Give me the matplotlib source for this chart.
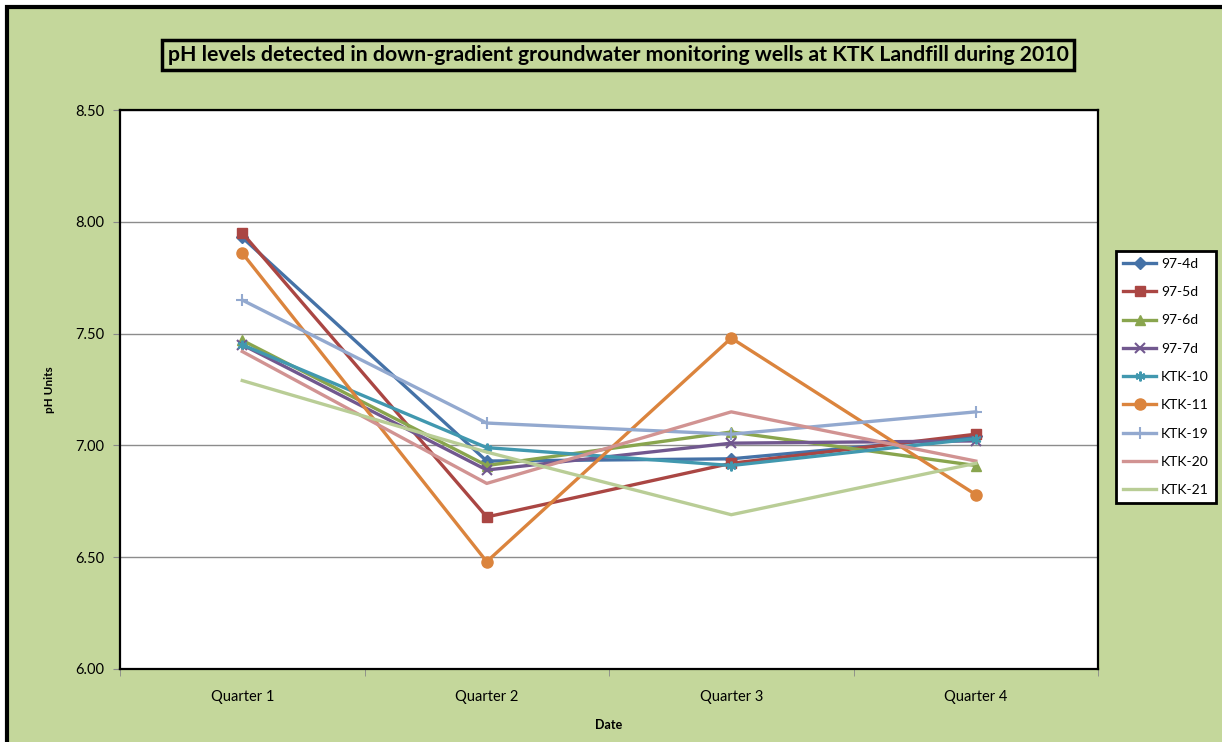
import matplotlib.pyplot as plt
import matplotlib.patches as patches
import numpy as np

plt.rcParams['font.family'] = ['Lato', 'DejaVu Sans']

quarters = ["Quarter 1", "Quarter 2", "Quarter 3", "Quarter 4"]

# pH per well, one value per quarter
well_974d = [7.93, 6.93, 6.94, 7.04]
well_975d = [7.95, 6.68, 6.92, 7.05]
well_976d = [7.47, 6.91, 7.06, 6.91]
well_977d = [7.45, 6.89, 7.01, 7.02]
ktk_10 = [7.45, 6.99, 6.91, 7.03]
ktk_11 = [7.86, 6.48, 7.48, 6.78]
ktk_19 = [7.65, 7.10, 7.05, 7.15]
ktk_20 = [7.42, 6.83, 7.15, 6.93]
ktk_21 = [7.29, 6.97, 6.69, 6.92]

wells = ["97-4d", "97-5d", "97-6d", "97-7d", "KTK-10", "KTK-11", "KTK-19", "KTK-20", "KTK-21"]
values = [well_974d, well_975d, well_976d, well_977d, ktk_10, ktk_11, ktk_19, ktk_20, ktk_21]
colors = ["#4572A7", "#AA4643", "#89A54E", "#71588F", "#4198AF",
          "#DB843D", "#93A9CF", "#D19392", "#B9CD96"]
markers = ["D", "s", "^", "x", (6, 2, 0), "o", "+", None, None]
msizes = [6, 7.5, 7, 7, 7, 8, 8, 0, 0]

fig = plt.figure(figsize=(12.22, 7.42), dpi=100, facecolor="white")

# green chart area with a black edge on the left and top
W, H = 1222.0, 742.0
bg = patches.Rectangle((7 / W, -0.05), 1.1, 1 - 7 / H + 0.05, transform=fig.transFigure,
                       facecolor="#C4D79B", edgecolor="black", linewidth=3, zorder=-10)
fig.patches.append(bg)

ax = fig.add_axes([120 / W, 1 - 669 / H, 978 / W, 559 / H])
ax.set_facecolor("white")

x = np.arange(len(quarters))
for name, vals, c, m, ms in zip(wells, values, colors, markers, msizes):
    ax.plot(x, vals, color=c, linewidth=2.4, marker=m, markersize=ms,
            markeredgewidth=1.5 if m in ("x", "+", (6, 2, 0)) else 1,
            markeredgecolor=c, label=name, zorder=3)

ax.set_xlim(-0.5, len(quarters) - 0.5)
ax.set_ylim(6.0, 8.5)
ax.set_yticks(np.arange(6.0, 8.51, 0.5))
ax.set_yticklabels(["%.2f" % v for v in np.arange(6.0, 8.51, 0.5)], fontsize=10.5)
ax.set_xticks(x)
ax.set_xticklabels(quarters, fontsize=10.5)
ax.set_xticks(np.arange(-0.5, len(quarters), 1), minor=True)
ax.tick_params(axis="x", which="major", length=0, pad=15)
ax.tick_params(axis="x", which="minor", length=5, color="#888888")
ax.tick_params(axis="y", length=5, color="#888888", pad=6)
ax.yaxis.grid(True, color="#8C8C8C", linewidth=1)
ax.set_axisbelow(True)
for side in ["top", "right", "bottom", "left"]:
    ax.spines[side].set_color("black")
    ax.spines[side].set_linewidth(1.6)

ax.set_ylabel("pH Units", fontsize=8.5, fontweight="bold", labelpad=15)
ax.set_xlabel("Date", fontsize=9, fontweight="bold", labelpad=11)

fig.text(618 / W, 1 - 55 / H,
         "pH levels detected in down-gradient groundwater monitoring wells at KTK Landfill during 2010",
         ha="center", va="center", fontsize=15.3, fontweight="bold",
         bbox=dict(boxstyle="square,pad=0.25", facecolor="none", edgecolor="black", linewidth=2.5))

leg = ax.legend(loc="center left", bbox_to_anchor=(1116 / W, 1 - 377 / H),
                bbox_transform=fig.transFigure, fontsize=10, frameon=True,
                fancybox=False, edgecolor="black", facecolor="white", framealpha=1,
                handlelength=2.4, labelspacing=1.17, borderpad=0.5,
                handletextpad=0.35, borderaxespad=0)
leg.get_frame().set_linewidth(2)

fig.savefig("out.png", dpi=100, facecolor=fig.get_facecolor())
